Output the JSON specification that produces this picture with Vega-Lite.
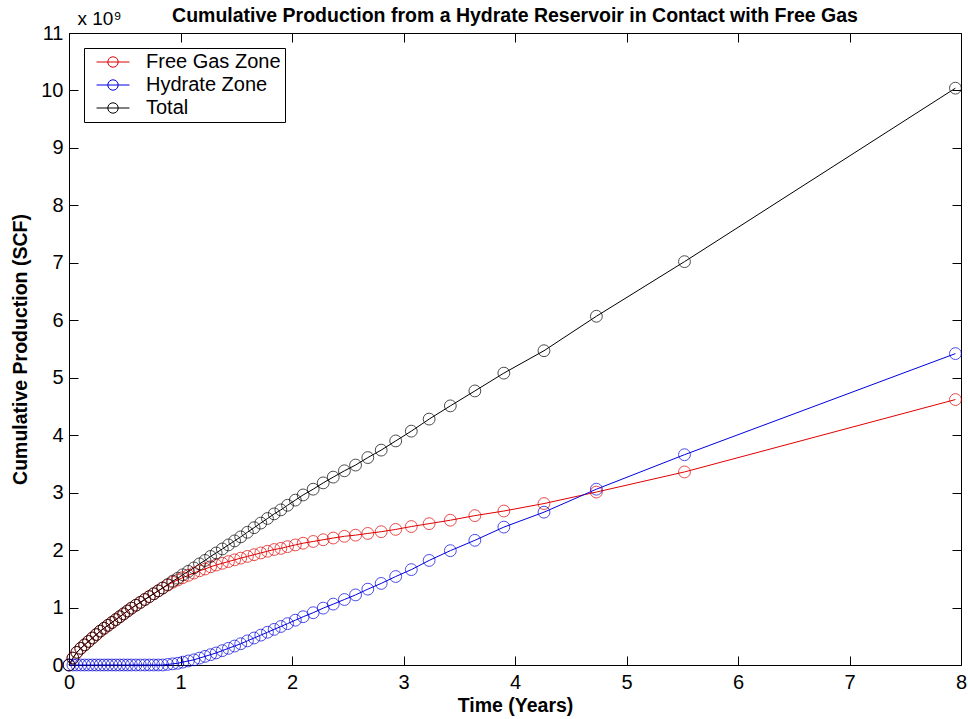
{
  "$schema": "https://vega.github.io/schema/vega-lite/v6.json",
  "width": 892,
  "height": 632,
  "autosize": {"type": "none"},
  "padding": {"left": 69, "top": 33, "right": 7, "bottom": 54},
  "background": "white",
  "title": {
    "text": "Cumulative Production from a Hydrate Reservoir in Contact with Free Gas",
    "font": "Liberation Sans",
    "fontSize": 19.5,
    "fontWeight": "bold",
    "color": "black",
    "anchor": "middle",
    "offset": -17
  },
  "config": {
    "view": {"stroke": null},
    "axis": {
      "grid": false,
      "domainColor": "black",
      "domainWidth": 1,
      "tickColor": "black",
      "tickWidth": 1,
      "tickSize": -9,
      "labelColor": "black",
      "titleColor": "black",
      "labelFont": "Liberation Sans",
      "titleFont": "Liberation Sans",
      "labelFontSize": 20,
      "titleFontSize": 19.5,
      "titleFontWeight": "bold"
    }
  },
  "data": {
    "values": [
      {"series": "Free Gas Zone", "years": 0, "bscf": 0},
      {"series": "Free Gas Zone", "years": 0.035, "bscf": 0.12},
      {"series": "Free Gas Zone", "years": 0.07, "bscf": 0.22},
      {"series": "Free Gas Zone", "years": 0.105, "bscf": 0.29},
      {"series": "Free Gas Zone", "years": 0.14, "bscf": 0.35},
      {"series": "Free Gas Zone", "years": 0.175, "bscf": 0.41},
      {"series": "Free Gas Zone", "years": 0.21, "bscf": 0.47},
      {"series": "Free Gas Zone", "years": 0.245, "bscf": 0.53},
      {"series": "Free Gas Zone", "years": 0.28, "bscf": 0.59},
      {"series": "Free Gas Zone", "years": 0.315, "bscf": 0.64},
      {"series": "Free Gas Zone", "years": 0.35, "bscf": 0.69},
      {"series": "Free Gas Zone", "years": 0.385, "bscf": 0.74},
      {"series": "Free Gas Zone", "years": 0.42, "bscf": 0.79},
      {"series": "Free Gas Zone", "years": 0.455, "bscf": 0.84},
      {"series": "Free Gas Zone", "years": 0.49, "bscf": 0.89},
      {"series": "Free Gas Zone", "years": 0.525, "bscf": 0.94},
      {"series": "Free Gas Zone", "years": 0.56, "bscf": 0.99},
      {"series": "Free Gas Zone", "years": 0.6, "bscf": 1.04},
      {"series": "Free Gas Zone", "years": 0.64, "bscf": 1.09},
      {"series": "Free Gas Zone", "years": 0.68, "bscf": 1.14},
      {"series": "Free Gas Zone", "years": 0.72, "bscf": 1.19},
      {"series": "Free Gas Zone", "years": 0.76, "bscf": 1.24},
      {"series": "Free Gas Zone", "years": 0.8, "bscf": 1.29},
      {"series": "Free Gas Zone", "years": 0.84, "bscf": 1.34},
      {"series": "Free Gas Zone", "years": 0.885, "bscf": 1.39},
      {"series": "Free Gas Zone", "years": 0.93, "bscf": 1.44},
      {"series": "Free Gas Zone", "years": 0.975, "bscf": 1.48},
      {"series": "Free Gas Zone", "years": 1.02, "bscf": 1.52},
      {"series": "Free Gas Zone", "years": 1.07, "bscf": 1.56},
      {"series": "Free Gas Zone", "years": 1.12, "bscf": 1.6},
      {"series": "Free Gas Zone", "years": 1.17, "bscf": 1.64},
      {"series": "Free Gas Zone", "years": 1.22, "bscf": 1.67},
      {"series": "Free Gas Zone", "years": 1.27, "bscf": 1.71},
      {"series": "Free Gas Zone", "years": 1.32, "bscf": 1.74},
      {"series": "Free Gas Zone", "years": 1.375, "bscf": 1.77},
      {"series": "Free Gas Zone", "years": 1.43, "bscf": 1.8},
      {"series": "Free Gas Zone", "years": 1.485, "bscf": 1.83},
      {"series": "Free Gas Zone", "years": 1.54, "bscf": 1.86},
      {"series": "Free Gas Zone", "years": 1.6, "bscf": 1.89},
      {"series": "Free Gas Zone", "years": 1.66, "bscf": 1.92},
      {"series": "Free Gas Zone", "years": 1.72, "bscf": 1.95},
      {"series": "Free Gas Zone", "years": 1.78, "bscf": 1.98},
      {"series": "Free Gas Zone", "years": 1.84, "bscf": 2.01},
      {"series": "Free Gas Zone", "years": 1.9, "bscf": 2.03},
      {"series": "Free Gas Zone", "years": 1.96, "bscf": 2.06},
      {"series": "Free Gas Zone", "years": 2.03, "bscf": 2.09},
      {"series": "Free Gas Zone", "years": 2.1, "bscf": 2.12},
      {"series": "Free Gas Zone", "years": 2.19, "bscf": 2.15},
      {"series": "Free Gas Zone", "years": 2.28, "bscf": 2.18},
      {"series": "Free Gas Zone", "years": 2.37, "bscf": 2.21},
      {"series": "Free Gas Zone", "years": 2.47, "bscf": 2.24},
      {"series": "Free Gas Zone", "years": 2.57, "bscf": 2.26},
      {"series": "Free Gas Zone", "years": 2.68, "bscf": 2.29},
      {"series": "Free Gas Zone", "years": 2.8, "bscf": 2.32},
      {"series": "Free Gas Zone", "years": 2.93, "bscf": 2.36},
      {"series": "Free Gas Zone", "years": 3.07, "bscf": 2.41},
      {"series": "Free Gas Zone", "years": 3.23, "bscf": 2.46},
      {"series": "Free Gas Zone", "years": 3.42, "bscf": 2.52},
      {"series": "Free Gas Zone", "years": 3.64, "bscf": 2.6},
      {"series": "Free Gas Zone", "years": 3.9, "bscf": 2.68},
      {"series": "Free Gas Zone", "years": 4.26, "bscf": 2.81},
      {"series": "Free Gas Zone", "years": 4.73, "bscf": 3.01},
      {"series": "Free Gas Zone", "years": 5.52, "bscf": 3.36},
      {"series": "Free Gas Zone", "years": 7.95, "bscf": 4.62},

      {"series": "Hydrate Zone", "years": 0, "bscf": 0},
      {"series": "Hydrate Zone", "years": 0.035, "bscf": 0},
      {"series": "Hydrate Zone", "years": 0.07, "bscf": 0},
      {"series": "Hydrate Zone", "years": 0.105, "bscf": 0},
      {"series": "Hydrate Zone", "years": 0.14, "bscf": 0},
      {"series": "Hydrate Zone", "years": 0.175, "bscf": 0},
      {"series": "Hydrate Zone", "years": 0.21, "bscf": 0},
      {"series": "Hydrate Zone", "years": 0.245, "bscf": 0},
      {"series": "Hydrate Zone", "years": 0.28, "bscf": 0},
      {"series": "Hydrate Zone", "years": 0.315, "bscf": 0},
      {"series": "Hydrate Zone", "years": 0.35, "bscf": 0},
      {"series": "Hydrate Zone", "years": 0.385, "bscf": 0},
      {"series": "Hydrate Zone", "years": 0.42, "bscf": 0},
      {"series": "Hydrate Zone", "years": 0.455, "bscf": 0},
      {"series": "Hydrate Zone", "years": 0.49, "bscf": 0},
      {"series": "Hydrate Zone", "years": 0.525, "bscf": 0},
      {"series": "Hydrate Zone", "years": 0.56, "bscf": 0},
      {"series": "Hydrate Zone", "years": 0.6, "bscf": 0},
      {"series": "Hydrate Zone", "years": 0.64, "bscf": 0},
      {"series": "Hydrate Zone", "years": 0.68, "bscf": 0},
      {"series": "Hydrate Zone", "years": 0.72, "bscf": 0},
      {"series": "Hydrate Zone", "years": 0.76, "bscf": 0},
      {"series": "Hydrate Zone", "years": 0.8, "bscf": 0},
      {"series": "Hydrate Zone", "years": 0.84, "bscf": 0},
      {"series": "Hydrate Zone", "years": 0.885, "bscf": 0.01},
      {"series": "Hydrate Zone", "years": 0.93, "bscf": 0.02},
      {"series": "Hydrate Zone", "years": 0.975, "bscf": 0.03},
      {"series": "Hydrate Zone", "years": 1.02, "bscf": 0.05},
      {"series": "Hydrate Zone", "years": 1.07, "bscf": 0.07},
      {"series": "Hydrate Zone", "years": 1.12, "bscf": 0.09},
      {"series": "Hydrate Zone", "years": 1.17, "bscf": 0.12},
      {"series": "Hydrate Zone", "years": 1.22, "bscf": 0.15},
      {"series": "Hydrate Zone", "years": 1.27, "bscf": 0.18},
      {"series": "Hydrate Zone", "years": 1.32, "bscf": 0.21},
      {"series": "Hydrate Zone", "years": 1.375, "bscf": 0.25},
      {"series": "Hydrate Zone", "years": 1.43, "bscf": 0.29},
      {"series": "Hydrate Zone", "years": 1.485, "bscf": 0.33},
      {"series": "Hydrate Zone", "years": 1.54, "bscf": 0.37},
      {"series": "Hydrate Zone", "years": 1.6, "bscf": 0.42},
      {"series": "Hydrate Zone", "years": 1.66, "bscf": 0.47},
      {"series": "Hydrate Zone", "years": 1.72, "bscf": 0.52},
      {"series": "Hydrate Zone", "years": 1.78, "bscf": 0.57},
      {"series": "Hydrate Zone", "years": 1.84, "bscf": 0.62},
      {"series": "Hydrate Zone", "years": 1.9, "bscf": 0.67},
      {"series": "Hydrate Zone", "years": 1.96, "bscf": 0.72},
      {"series": "Hydrate Zone", "years": 2.03, "bscf": 0.78},
      {"series": "Hydrate Zone", "years": 2.1, "bscf": 0.84},
      {"series": "Hydrate Zone", "years": 2.19, "bscf": 0.91},
      {"series": "Hydrate Zone", "years": 2.28, "bscf": 0.99},
      {"series": "Hydrate Zone", "years": 2.37, "bscf": 1.06},
      {"series": "Hydrate Zone", "years": 2.47, "bscf": 1.14},
      {"series": "Hydrate Zone", "years": 2.57, "bscf": 1.22},
      {"series": "Hydrate Zone", "years": 2.68, "bscf": 1.32},
      {"series": "Hydrate Zone", "years": 2.8, "bscf": 1.42},
      {"series": "Hydrate Zone", "years": 2.93, "bscf": 1.54},
      {"series": "Hydrate Zone", "years": 3.07, "bscf": 1.66},
      {"series": "Hydrate Zone", "years": 3.23, "bscf": 1.82},
      {"series": "Hydrate Zone", "years": 3.42, "bscf": 1.99},
      {"series": "Hydrate Zone", "years": 3.64, "bscf": 2.17},
      {"series": "Hydrate Zone", "years": 3.9, "bscf": 2.4},
      {"series": "Hydrate Zone", "years": 4.26, "bscf": 2.66},
      {"series": "Hydrate Zone", "years": 4.73, "bscf": 3.06},
      {"series": "Hydrate Zone", "years": 5.52, "bscf": 3.66},
      {"series": "Hydrate Zone", "years": 7.95, "bscf": 5.42},

      {"series": "Total", "years": 0, "bscf": 0},
      {"series": "Total", "years": 0.035, "bscf": 0.12},
      {"series": "Total", "years": 0.07, "bscf": 0.22},
      {"series": "Total", "years": 0.105, "bscf": 0.29},
      {"series": "Total", "years": 0.14, "bscf": 0.35},
      {"series": "Total", "years": 0.175, "bscf": 0.41},
      {"series": "Total", "years": 0.21, "bscf": 0.47},
      {"series": "Total", "years": 0.245, "bscf": 0.53},
      {"series": "Total", "years": 0.28, "bscf": 0.59},
      {"series": "Total", "years": 0.315, "bscf": 0.64},
      {"series": "Total", "years": 0.35, "bscf": 0.69},
      {"series": "Total", "years": 0.385, "bscf": 0.74},
      {"series": "Total", "years": 0.42, "bscf": 0.79},
      {"series": "Total", "years": 0.455, "bscf": 0.84},
      {"series": "Total", "years": 0.49, "bscf": 0.89},
      {"series": "Total", "years": 0.525, "bscf": 0.94},
      {"series": "Total", "years": 0.56, "bscf": 0.99},
      {"series": "Total", "years": 0.6, "bscf": 1.04},
      {"series": "Total", "years": 0.64, "bscf": 1.09},
      {"series": "Total", "years": 0.68, "bscf": 1.14},
      {"series": "Total", "years": 0.72, "bscf": 1.19},
      {"series": "Total", "years": 0.76, "bscf": 1.24},
      {"series": "Total", "years": 0.8, "bscf": 1.29},
      {"series": "Total", "years": 0.84, "bscf": 1.34},
      {"series": "Total", "years": 0.885, "bscf": 1.4},
      {"series": "Total", "years": 0.93, "bscf": 1.46},
      {"series": "Total", "years": 0.975, "bscf": 1.51},
      {"series": "Total", "years": 1.02, "bscf": 1.57},
      {"series": "Total", "years": 1.07, "bscf": 1.63},
      {"series": "Total", "years": 1.12, "bscf": 1.69},
      {"series": "Total", "years": 1.17, "bscf": 1.76},
      {"series": "Total", "years": 1.22, "bscf": 1.82},
      {"series": "Total", "years": 1.27, "bscf": 1.89},
      {"series": "Total", "years": 1.32, "bscf": 1.95},
      {"series": "Total", "years": 1.375, "bscf": 2.02},
      {"series": "Total", "years": 1.43, "bscf": 2.09},
      {"series": "Total", "years": 1.485, "bscf": 2.16},
      {"series": "Total", "years": 1.54, "bscf": 2.23},
      {"series": "Total", "years": 1.6, "bscf": 2.31},
      {"series": "Total", "years": 1.66, "bscf": 2.39},
      {"series": "Total", "years": 1.72, "bscf": 2.47},
      {"series": "Total", "years": 1.78, "bscf": 2.55},
      {"series": "Total", "years": 1.84, "bscf": 2.63},
      {"series": "Total", "years": 1.9, "bscf": 2.7},
      {"series": "Total", "years": 1.96, "bscf": 2.78},
      {"series": "Total", "years": 2.03, "bscf": 2.87},
      {"series": "Total", "years": 2.1, "bscf": 2.96},
      {"series": "Total", "years": 2.19, "bscf": 3.06},
      {"series": "Total", "years": 2.28, "bscf": 3.17},
      {"series": "Total", "years": 2.37, "bscf": 3.27},
      {"series": "Total", "years": 2.47, "bscf": 3.38},
      {"series": "Total", "years": 2.57, "bscf": 3.48},
      {"series": "Total", "years": 2.68, "bscf": 3.61},
      {"series": "Total", "years": 2.8, "bscf": 3.74},
      {"series": "Total", "years": 2.93, "bscf": 3.9},
      {"series": "Total", "years": 3.07, "bscf": 4.07},
      {"series": "Total", "years": 3.23, "bscf": 4.28},
      {"series": "Total", "years": 3.42, "bscf": 4.51},
      {"series": "Total", "years": 3.64, "bscf": 4.77},
      {"series": "Total", "years": 3.9, "bscf": 5.08},
      {"series": "Total", "years": 4.26, "bscf": 5.47},
      {"series": "Total", "years": 4.73, "bscf": 6.07},
      {"series": "Total", "years": 5.52, "bscf": 7.02},
      {"series": "Total", "years": 7.95, "bscf": 10.04}
    ]
  },
  "layer": [
    {
      "mark": {"type": "line", "strokeWidth": 1},
      "encoding": {
        "x": {
          "field": "years",
          "type": "quantitative",
          "scale": {"domain": [0, 8], "nice": false, "zero": false},
          "axis": {
            "orient": "bottom",
            "title": "Time (Years)",
            "values": [0, 1, 2, 3, 4, 5, 6, 7, 8],
            "labelFlush": false,
            "labelPadding": 16,
            "titlePadding": 4
          }
        },
        "y": {
          "field": "bscf",
          "type": "quantitative",
          "scale": {"domain": [0, 11], "nice": false},
          "axis": {
            "orient": "left",
            "title": "Cumulative Production (SCF)",
            "values": [0, 1, 2, 3, 4, 5, 6, 7, 8, 9, 10, 11],
            "labelFlush": false,
            "labelPadding": 15,
            "titlePadding": 10
          }
        },
        "color": {
          "field": "series",
          "type": "nominal",
          "scale": {
            "domain": ["Free Gas Zone", "Hydrate Zone", "Total"],
            "range": ["#e00000", "#0000e0", "#000000"]
          },
          "legend": {
            "title": null,
            "orient": "none",
            "legendX": 15,
            "legendY": 15,
            "fillColor": "white",
            "strokeColor": "black",
            "padding": 4,
            "rowPadding": 3,
            "symbolOffset": 15,
            "labelFont": "Liberation Sans",
            "labelFontSize": 20,
            "labelColor": "black",
            "labelOffset": 23,
            "labelExpr": "datum.label + '\u00a0\u00a0\u00a0\u00a0'",
            "symbolType": "M-1.9,0H1.9M-0.6,0A0.6,0.6 0 1,1 0.6,0A0.6,0.6 0 1,1 -0.6,0",
            "symbolSize": 300,
            "symbolStrokeWidth": 1,
            "symbolFillColor": "transparent"
          }
        }
      }
    },
    {
      "mark": {"type": "point", "shape": "circle", "filled": false, "size": 140, "strokeWidth": 1},
      "encoding": {
        "x": {
          "field": "years",
          "type": "quantitative",
          "axis": {
            "orient": "top",
            "title": null,
            "labels": false,
            "values": [0, 1, 2, 3, 4, 5, 6, 7, 8]
          }
        },
        "y": {
          "field": "bscf",
          "type": "quantitative",
          "axis": {
            "orient": "right",
            "labels": false,
            "values": [0, 1, 2, 3, 4, 5, 6, 7, 8, 9, 10, 11],
            "title": "x 10⁹",
            "titleAngle": 0,
            "titleFontWeight": "normal",
            "titleFontSize": 19,
            "titleAlign": "center",
            "titleBaseline": "alphabetic",
            "titleX": -862,
            "titleY": -9
          }
        },
        "color": {"field": "series", "type": "nominal", "legend": null}
      }
    }
  ],
  "resolve": {"axis": {"x": "independent", "y": "independent"}}
}
